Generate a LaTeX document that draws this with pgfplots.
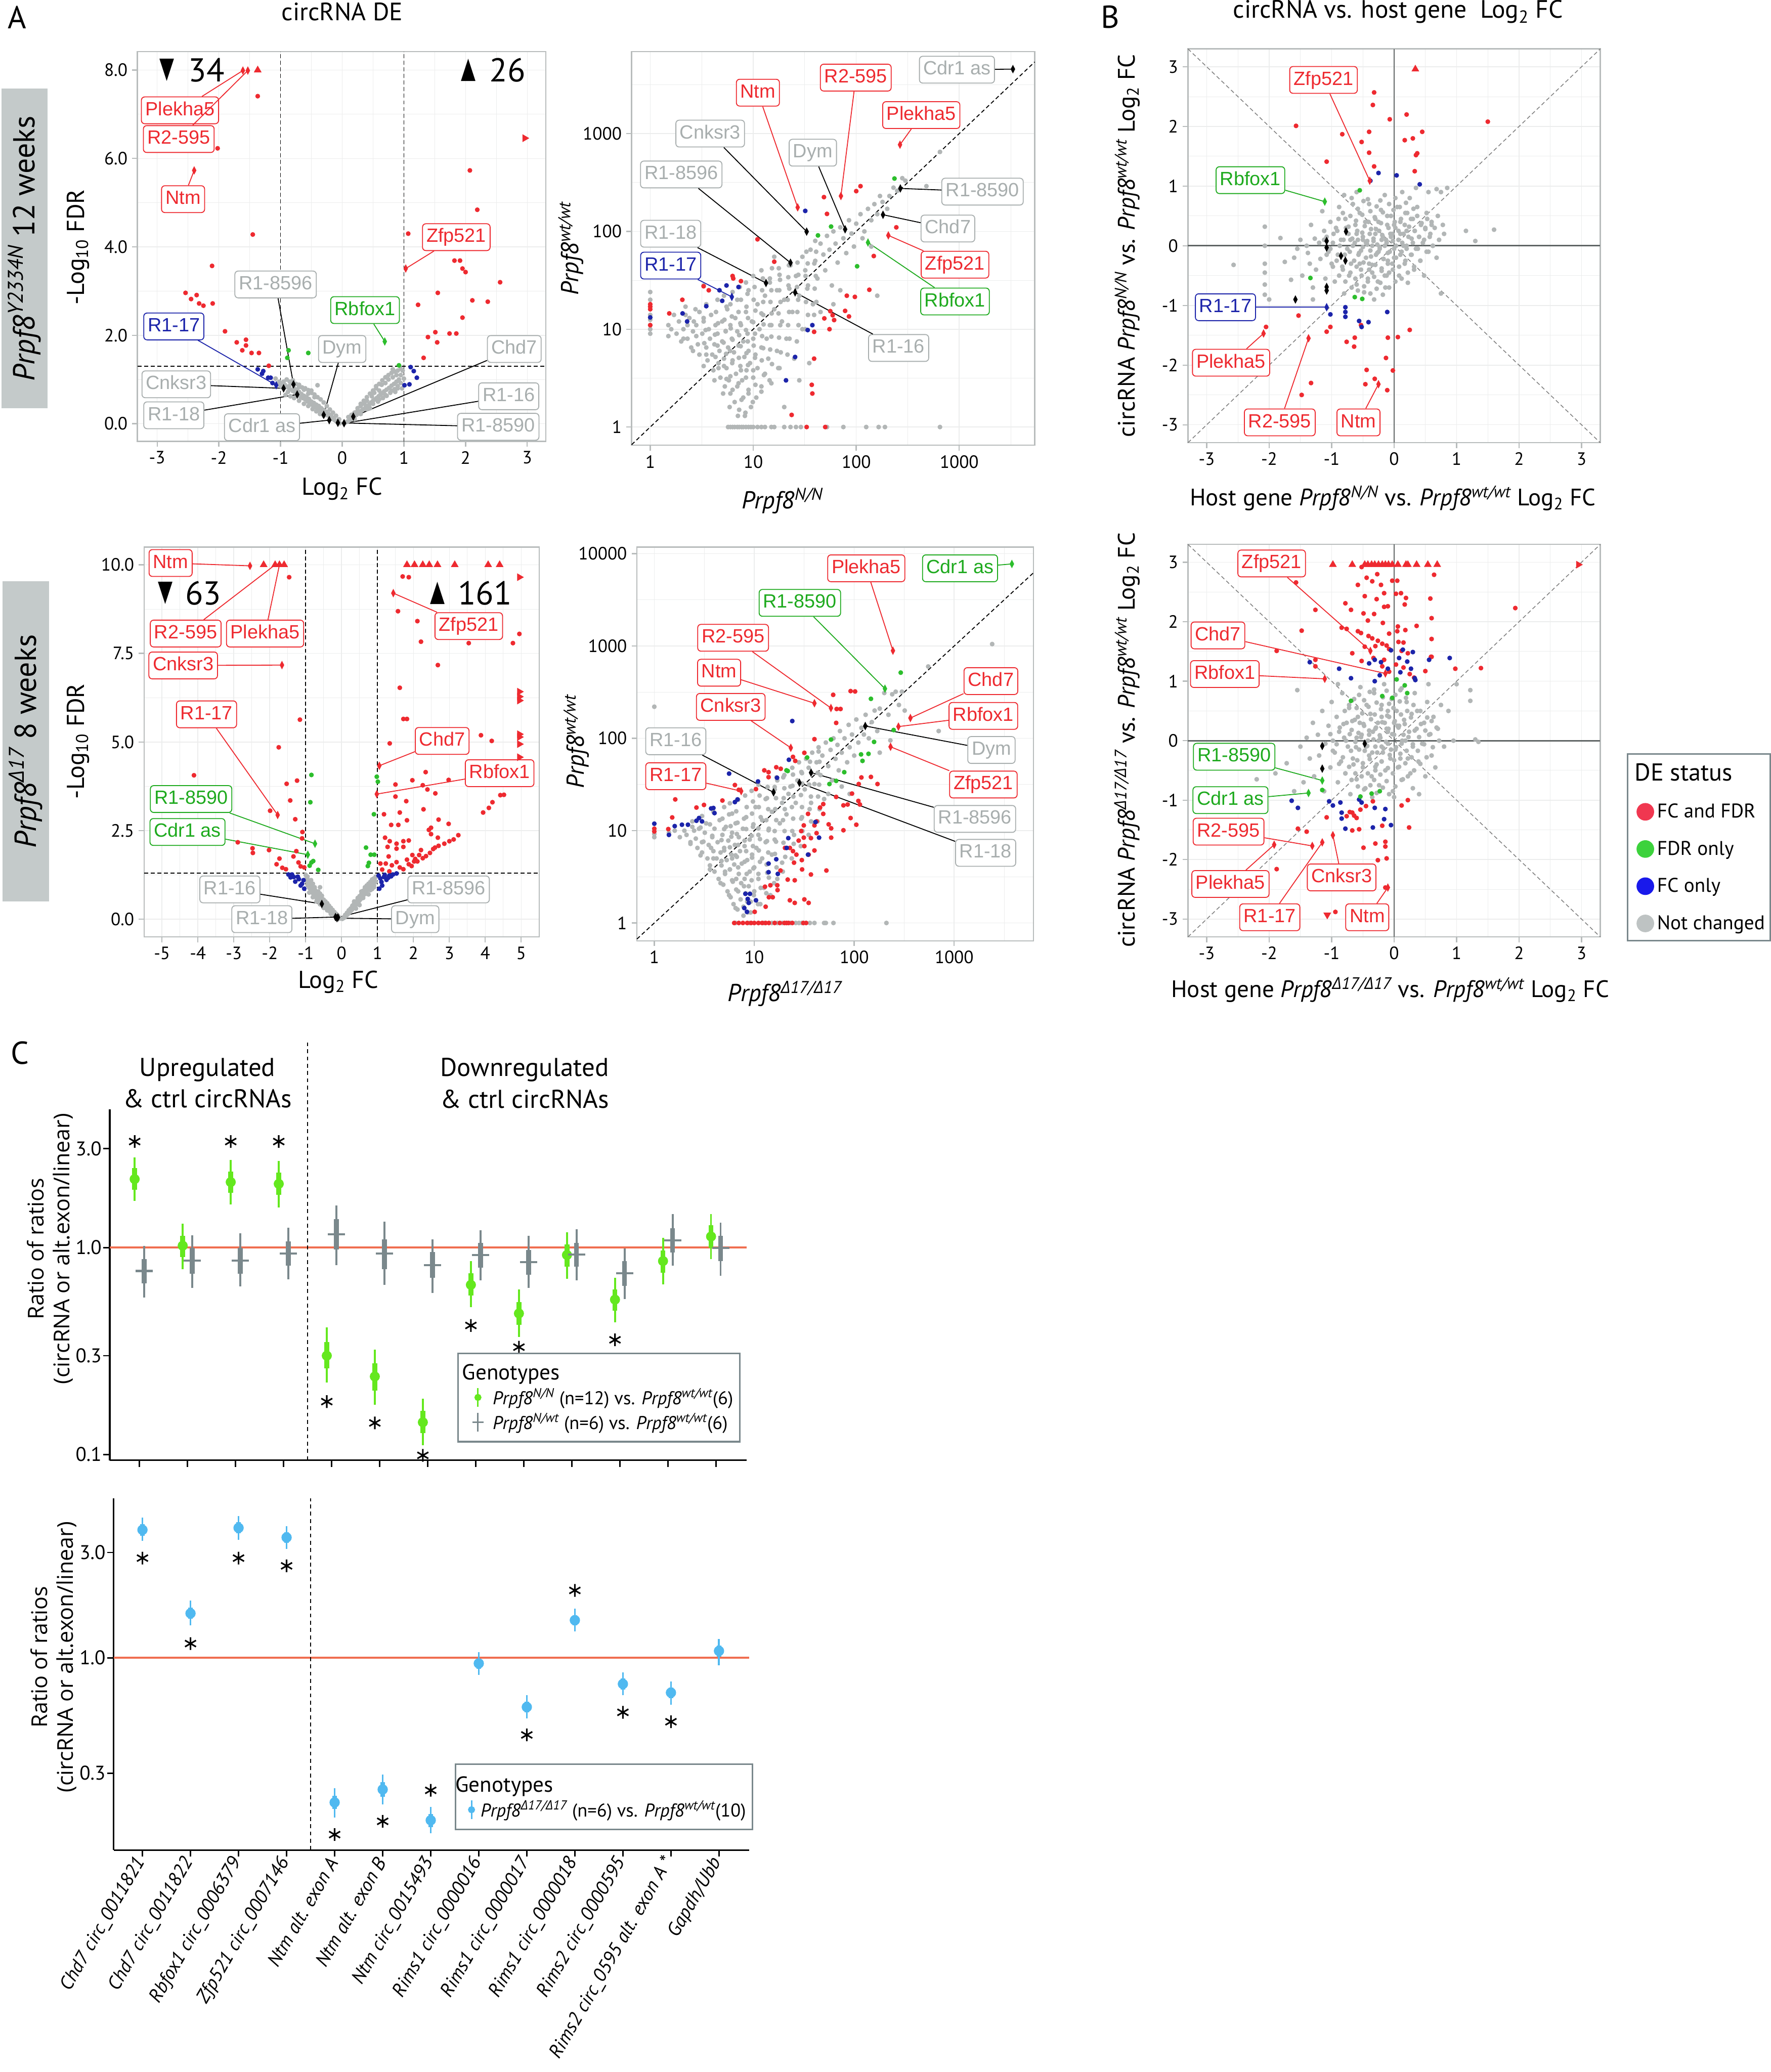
\documentclass[border=0pt]{standalone}
\usepackage{fontspec}
\setmainfont{PT Sans}
\newfontfamily\lab{Liberation Sans}
\newfontfamily\sym{DejaVu Sans}
\newfontfamily\osans{Open Sans}
\usepackage{pgfplots}
\pgfplotsset{compat=1.18}
\definecolor{pred}{RGB}{238,42,48}
\definecolor{pgreen}{RGB}{44,190,44}
\definecolor{lgreen}{RGB}{30,170,30}
\definecolor{pblue}{RGB}{28,36,170}
\definecolor{pgrey}{RGB}{178,182,182}
\definecolor{lgrey}{RGB}{168,174,174}
\definecolor{bord}{RGB}{184,188,188}
\definecolor{gridc}{RGB}{236,237,237}
\definecolor{zgrey}{RGB}{95,100,100}
\definecolor{cgreen}{RGB}{100,232,30}
\definecolor{cgrey}{RGB}{122,136,140}
\definecolor{cblue}{RGB}{80,185,240}
\definecolor{corange}{RGB}{240,110,80}
\definecolor{boxgrey}{RGB}{196,202,202}
\definecolor{legred}{RGB}{240,55,80}
\definecolor{leggreen}{RGB}{60,210,60}
\definecolor{legblue}{RGB}{25,25,235}
\definecolor{leggrey}{RGB}{190,195,195}
\newcommand{\fs}[1]{\fontsize{#1}{#1}\selectfont}
\newcommand{\Prpf}[1]{\textit{Prpf8}\textsuperscript{\itshape #1}}
\newcommand{\Dl}{{\osans\itshape Δ}}
\newcommand{\logt}{Log\textsubscript{2}}
\newcommand{\lb}[6]{\node[lbl=#1] (#2) at (axis cs:#3) {#4}; \draw[cl=#5] (#2) -- (axis cs:#6);}
\tikzset{
 lbl/.style={draw=#1, text=#1, fill=white, rounded corners=2.5pt, line width=0.7pt, inner xsep=3pt, inner ysep=3.5pt, text height=10.5pt, text depth=2.8pt, font=\lab\fs{14.5}},
 cl/.style={draw=#1, line width=0.7pt},
}
\pgfplotsset{
 base/.style={scale only axis, clip=false, tick align=outside, tick pos=left,
   axis line style={draw=bord, line width=0.9pt},
   major tick length=4pt, minor tick length=0pt,
   tick style={draw=bord, line width=0.9pt},
   ticklabel style={font=\fs{13.5}, text=black},
   /pgf/number format/assume math mode=true,
   grid=both, major grid style={draw=gridc, line width=0.6pt},
   minor grid style={draw=gridc, line width=0.35pt}},
 pts/.style={only marks, mark=*, mark size=1.6pt, color=#1},
 dia/.style={only marks, mark=diamond*, mark size=2.8pt, color=#1, mark options={xscale=0.7}},
 tru/.style={only marks, mark=triangle*, mark size=3pt, color=#1},
 trr/.style={only marks, mark=triangle*, mark size=3pt, color=#1, mark options={rotate=-90}},
 trd/.style={only marks, mark=triangle*, mark size=3pt, color=#1, mark options={rotate=180}},
 dsh/.style={black, line width=0.7pt, dash pattern=on 3pt off 2pt},
 star/.style={only marks, mark=asterisk, mark size=4.8pt, black, mark options={line width=1.2pt}},
}
\begin{document}
\begin{tikzpicture}
\useasboundingbox (0pt,0pt) rectangle (1340pt,-1568pt);
% ---------- titles / side boxes ----------
\node[font=\fs{24}] at (13pt,-13pt) {A};
\node[font=\fs{24}] at (840pt,-13pt) {B};
\node[font=\fs{24}] at (15pt,-797pt) {C};
\node[font=\fs{19}] at (259pt,-9pt) {circRNA DE};
\node[font=\fs{19}] at (1058pt,-9pt) {circRNA vs. host gene\ \ \logt{} FC};
\node[fill=boxgrey, rotate=90, minimum width=242pt, minimum height=35pt, inner sep=0pt, font=\fs{23}] at (18.5pt,-188pt) {\Prpf{Y2334N} 12 weeks};
\node[fill=boxgrey, rotate=90, minimum width=242pt, minimum height=35pt, inner sep=0pt, font=\fs{23}] at (19.5pt,-561pt) {\Prpf{\Dl17} 8 weeks};
% axis titles
\node[rotate=90, font=\fs{18.5}] at (59pt,-187pt) {-Log\textsubscript{10} FDR};
\node[font=\fs{18.5}] at (259pt,-370pt) {\logt{} FC};
\node[rotate=90, font=\fs{18.5}] at (432pt,-188pt) {\Prpf{wt/wt}};
\node[font=\fs{18.5}] at (592pt,-379pt) {\Prpf{N/N}};
\node[rotate=90, font=\fs{18}] at (853pt,-186pt) {circRNA \Prpf{N/N} vs. \Prpf{wt/wt} \logt{} FC};
\node[font=\fs{18}] at (1054pt,-377pt) {Host gene \Prpf{N/N} vs. \Prpf{wt/wt} \logt{} FC};
\node[rotate=90, font=\fs{18.5}] at (59pt,-561pt) {-Log\textsubscript{10} FDR};
\node[font=\fs{18.5}] at (256pt,-743pt) {\logt{} FC};
\node[rotate=90, font=\fs{18.5}] at (436pt,-561pt) {\Prpf{wt/wt}};
\node[font=\fs{18.5}] at (594pt,-752pt) {\Prpf{\Dl17/\Dl17}};
\node[rotate=90, font=\fs{18}] at (853pt,-560pt) {circRNA \Prpf{\Dl17/\Dl17} vs. \Prpf{wt/wt} \logt{} FC};
\node[font=\fs{18}] at (1052pt,-749pt) {Host gene \Prpf{\Dl17/\Dl17} vs. \Prpf{wt/wt} \logt{} FC};
\node[align=center, font=\fontsize{19.5}{24}\selectfont] at (157pt,-819.6pt) {Upregulated\\\& ctrl circRNAs};
\node[align=center, font=\fontsize{19.5}{24}\selectfont] at (397pt,-819.6pt) {Downregulated\\\& ctrl circRNAs};
\node[rotate=90, align=center, font=\osans\fontsize{16.5}{19.5}\selectfont] at (38pt,-945pt) {Ratio of ratios\\(circRNA or alt.exon/linear)};
\node[rotate=90, align=center, font=\osans\fontsize{16.5}{19.5}\selectfont] at (40.5pt,-1254pt) {Ratio of ratios\\(circRNA or alt.exon/linear)};

% =========== Volcano top ===========
\begin{axis}[base, at={(104pt,-39pt)}, anchor=north west, width=309pt, height=295pt,
  xmin=-3.32, xmax=3.3, ymin=-0.4, ymax=8.42,
  xtick={-3,-2,-1,0,1,2,3}, ytick={0,2,4,6,8},
  minor xtick={-2.5,-1.5,-0.5,0.5,1.5,2.5}, minor ytick={1,3,5,7},
  yticklabel style={/pgf/number format/.cd, fixed, fixed zerofill, precision=1}]
\addplot[dsh] coordinates {(-1,-0.4) (-1,8.42)};
\addplot[dsh] coordinates {(1,-0.4) (1,8.42)};
\addplot[dsh] coordinates {(-3.32,1.3) (3.3,1.3)};
\addplot[pts=pgrey] coordinates {(-1.08,1.02) (-1.02,0.95) (-0.98,0.90) (-0.93,0.88) (-0.90,0.83) (-0.86,0.85) (-0.85,0.78) (-0.82,0.92) (-0.80,0.74) (-0.78,0.80) (-0.76,0.70) (-0.74,0.77) (-0.72,0.65) (-0.70,0.72) (-0.68,0.61) (-0.66,0.67) (-0.64,0.58) (-0.62,0.63) (-0.60,0.55) (-0.58,0.60) (-0.56,0.50) (-0.54,0.56) (-0.52,0.46) (-0.50,0.50) (-0.48,0.42) (-0.46,0.47) (-0.44,0.38) (-0.42,0.43) (-0.40,0.87) (-0.40,0.34) (-0.38,0.40) (-0.36,0.30) (-0.34,0.35) (-0.32,0.27) (-0.30,0.31) (-0.28,0.23) (-0.26,0.27) (-0.24,0.19) (-0.22,0.22) (-0.20,0.15) (-0.18,0.18) (-0.16,0.11) (-0.14,0.13) (-0.12,0.08) (-0.10,0.06) (-0.08,0.04) (-0.06,0.03) (-0.04,0.01) (-0.70,0.83) (-0.62,0.77) (-0.55,0.68) (-0.50,0.75) (-0.88,0.72) (-0.95,0.80) (-0.45,0.60)
(-0.95,0.95) (-0.9,1.0) (-0.85,0.95) (-0.8,0.98) (-0.75,0.9) (-0.7,0.88) (-0.65,0.82) (-0.6,0.8) (-0.55,0.76) (-0.5,0.7) (-0.45,0.66) (-0.4,0.6) (-0.35,0.55) (-0.3,0.48) (-0.25,0.4) (-0.2,0.32) (-0.15,0.25) (-0.1,0.18) (-0.05,0.1) (-1.05,0.9) (-1.0,0.85) (-0.92,0.65) (-0.84,0.62) (-0.78,0.58) (-0.7,0.52) (-0.62,0.45) (-0.55,0.4) (-0.48,0.33) (-0.42,0.28) (-0.36,0.22) (-0.3,0.18)
(0.04,0.02) (0.07,0.04) (0.10,0.06) (0.13,0.09) (0.16,0.12) (0.20,0.16) (0.23,0.20) (0.26,0.23) (0.29,0.27) (0.32,0.30) (0.35,0.33) (0.38,0.37) (0.41,0.40) (0.44,0.44) (0.47,0.48) (0.50,0.52) (0.53,0.55) (0.56,0.58) (0.59,0.62) (0.62,0.66) (0.65,0.69) (0.68,0.73) (0.72,0.77) (0.76,0.81) (0.80,0.86) (0.84,0.90) (0.88,0.95) (0.92,1.00) (0.30,0.40) (0.40,0.52) (0.48,0.62) (0.52,0.70) (0.55,0.80) (0.60,0.75) (0.64,0.88) (0.70,0.92) (0.75,1.00) (0.78,0.70) (0.82,1.05) (0.85,0.78) (0.88,1.10) (0.90,0.85) (0.95,0.92) (0.97,0.80) (1.00,1.02) (0.45,0.35) (0.58,0.50) (0.66,0.58) (0.72,0.63) (0.86,0.72) (0.36,0.45) (0.25,0.30) (0.82,1.23)
(0.1,0.15) (0.15,0.2) (0.2,0.25) (0.25,0.35) (0.3,0.45) (0.35,0.52) (0.4,0.6) (0.45,0.68) (0.5,0.75) (0.55,0.85) (0.6,0.9) (0.65,0.98) (0.7,1.05) (0.75,1.1) (0.8,1.15) (0.85,1.18) (0.9,1.2) (0.95,1.1) (0.98,1.2) (0.2,0.1) (0.3,0.22) (0.4,0.33) (0.5,0.45) (0.6,0.55) (0.7,0.65) (0.8,0.75) (0.9,0.8) (0.95,1.25)};
\addplot[pts=pred] coordinates {(-1.37,7.41) (-2.02,6.23) (-1.45,4.28) (-2.11,3.57) (-2.54,2.96) (-2.45,2.82) (-2.36,2.91) (-2.32,2.72) (-2.25,2.67) (-2.10,2.72) (-1.90,2.09) (-1.71,1.84) (-1.56,1.90) (-1.56,1.77) (-1.62,1.66) (-1.47,1.60) (-1.35,1.60) (-1.19,1.31) (2.07,5.73) (2.19,4.84) (1.07,4.30) (1.82,3.69) (1.91,3.69) (1.95,3.51) (2.00,3.43) (2.56,3.20) (1.55,2.96) (1.23,2.69) (2.11,2.79) (2.36,2.76) (1.95,2.40) (1.51,2.07) (1.39,1.96) (1.54,1.84) (1.74,2.04) (1.85,2.04) (1.32,1.49)};
\addplot[pts=pgreen] coordinates {(-0.87,1.66) (-0.89,1.49) (-0.55,1.60) (0.92,1.32)};
\addplot[pts=pblue] coordinates {(-1.37,1.23) (-1.28,1.19) (-1.30,1.13) (-1.20,1.04) (-1.16,1.04) (-1.13,0.92) (1.11,1.28) (1.16,1.19) (1.21,1.04) (1.01,0.87) (1.09,0.89)};
\addplot[dia=pred] coordinates {(-1.61,7.99) (-1.53,7.99) (-2.40,5.73) (1.03,3.51)};
\addplot[tru=pred] coordinates {(-1.37,8.0)};
\addplot[trr=pred] coordinates {(2.96,6.46)};
\addplot[dia=pgreen] coordinates {(0.69,1.86)};
\addplot[dia=pblue] coordinates {(-1.07,0.87)};
\addplot[dia=black] coordinates {(-0.95,0.80) (-0.79,0.89) (-0.73,0.66) (-0.30,0.20) (-0.21,0.08) (-0.07,0.02) (0.03,0.01) (0.18,0.16)};
\node[font=\sym\fs{17}] at (axis cs:-2.84,8.0) {\scalebox{0.85}[1.3]{▼}};
\node[font=\fs{25}] at (axis cs:-2.2,8.0) {34};
\node[font=\sym\fs{17}] at (axis cs:2.05,8.0) {\scalebox{0.85}[1.3]{▲}};
\node[font=\fs{25}] at (axis cs:2.68,8.0) {26};
\lb{pred}{a1}{-2.63,7.09}{Plekha5}{pred}{-1.61,7.99}
\lb{pred}{a2}{-2.65,6.44}{R2-595}{pred}{-1.53,7.99}
\lb{pred}{a3}{-2.58,5.08}{Ntm}{pred}{-2.40,5.73}
\lb{pred}{a4}{1.85,4.22}{Zfp521}{pred}{1.03,3.51}
\lb{lgrey}{a5}{-1.08,3.15}{R1-8596}{black}{-0.79,0.89}
\lb{lgreen}{a6}{0.37,2.57}{Rbfox1}{lgreen}{0.69,1.86}
\lb{pblue}{a7}{-2.73,2.20}{R1-17}{pblue}{-1.07,0.87}
\lb{lgrey}{a8}{0.0,1.69}{Dym}{black}{-0.30,0.20}
\lb{lgrey}{a9}{2.79,1.69}{Chd7}{black}{0.18,0.16}
\lb{lgrey}{a10}{-2.69,0.89}{Cnksr3}{black}{-0.95,0.80}
\lb{lgrey}{a11}{2.70,0.62}{R1-16}{black}{0.03,0.01}
\lb{lgrey}{a12}{-2.73,0.19}{R1-18}{black}{-0.73,0.66}
\lb{lgrey}{a13}{-1.30,-0.08}{Cdr1 as}{black}{-0.21,0.08}
\lb{lgrey}{a14}{2.53,-0.07}{R1-8590}{black}{-0.07,0.02}
\end{axis}

% =========== Scatter top ===========
\begin{axis}[base, at={(478pt,-39pt)}, anchor=north west, width=305pt, height=298pt,
  xmode=log, ymode=log, xmin=0.66, xmax=5400, ymin=0.65, ymax=6900,
  xtick={1,10,100,1000}, xticklabels={1,10,100,1000},
  ytick={1,10,100,1000}, yticklabels={1,10,100,1000},
  minor xtick={3.162,31.62,316.2,3162}, minor ytick={3.162,31.62,316.2,3162}]
\addplot[black, line width=0.7pt, dash pattern=on 3pt off 2pt] coordinates {(0.66,0.66) (5400,5400)};
\addplot[pts=pgrey] coordinates {(1,9) (1,10) (1,11) (1,12.5) (1,14) (1,17) (1,20) (1,24)
(5.7,1) (6,1) (6.3,1) (6.6,1) (7,1) (7.3,1) (7.7,1) (8,1) (8.5,1) (9,1) (9.5,1) (10,1) (11,1) (12,1) (13,1) (15,1) (16,1) (20,1) (23,1) (26,1) (29,1) (52,1) (75,1) (125,1) (165,1) (190,1) (650,1)
(1.5,11) (1.5,8.5) (1.6,10) (1.8,9) (1.9,12) (2,7.5) (2.1,10) (2.3,8) (2.4,13) (2.5,6.5) (2.6,9.5) (2.8,11) (2.9,7) (3,15) (3,5.5) (3.2,9) (3.3,12) (3.5,6.5) (3.6,4.8) (3.7,10) (3.8,8) (3.9,14) (4,5.5) (4.1,3.8) (4.2,7) (4.3,11) (4.5,9) (4.6,4.5) (4.7,6) (4.8,3.2) (5,12) (5,7.5) (5.2,5) (5.3,2.6) (5.4,9.5) (5.5,4) (5.6,16) (5.7,6.5) (5.8,3) (6,11) (6,2.2) (6.2,8) (6.3,4.8) (6.5,5.8) (6.6,1.8) (6.7,13) (6.8,3.5) (7,9.5) (7,2.6) (7.2,6.8) (7.3,1.5) (7.5,4.2) (7.6,11) (7.8,3) (8,7.5) (8,2) (8.2,5.2) (8.3,1.3) (8.5,15) (8.6,3.8) (8.8,9) (9,2.4) (9,6) (9.3,4.5) (9.5,1.6) (9.7,12) (10,3.2) (10,8) (10.5,5.5) (10.7,2) (11,18) (11,4) (11.5,10) (12,2.6) (12,6.5) (12.5,14) (13,3.5) (13,22) (13.5,8) (14,5) (14.5,30) (15,11) (15,2.8) (16,16) (17,6) (17,25) (18,4) (18,36) (19,12) (20,20) (21,8) (22,28) (23,45) (24,15) (25,5) (26,35) (28,22) (30,55) (30,10) (32,40) (34,28) (36,65) (38,18) (40,50) (42,33) (45,75) (48,58) (50,40) (52,90) (55,65) (58,28) (60,100) (63,75) (66,48) (70,110) (75,85) (80,60) (85,130) (90,95) (95,70) (100,120) (110,150) (115,85) (120,100) (130,170) (140,130) (150,190) (160,150) (170,230) (180,200) (200,170) (210,230) (230,280) (250,260) (280,350) (300,330) (480,290) (650,650) (160,22) (60,18) (70,25) (140,70) (45,15) (35,4.5) (28,3) (20,1.6) (3.3,28) (2.2,17) (1.7,14) (12,40) (9,25) (16,55) (7,20)
(2.1,8) (2.3,11) (2.2,14) (2.6,6) (2.8,8.5) (2.65,12) (2.75,16) (3.3,4.2) (3.5,5.5) (3.35,7.2) (3.45,9.8) (3.3,13) (3.5,18) (4.2,3.0) (4.6,4.0) (4.3,5.2) (4.5,6.8) (4.25,8.8) (4.55,11.5) (4.35,15) (4.5,20) (5.1,2.2) (5.5,3.1) (5.2,4.2) (5.45,5.6) (5.15,7.3) (5.4,9.6) (5.25,12.5) (5.5,17) (5.2,22) (5.9,1.6) (6.3,2.4) (6.0,3.3) (6.25,4.5) (5.95,6) (6.3,7.8) (6.05,10.2) (6.2,13.5) (6.0,18) (6.3,24) (7.1,1.3) (7.7,1.9) (7.2,2.8) (7.6,3.8) (7.25,5.1) (7.55,6.7) (7.3,8.7) (7.5,11.5) (7.2,15) (7.6,20) (7.4,27) (8.4,1.4) (9.0,2.2) (8.5,3.2) (8.9,4.3) (8.6,5.7) (8.85,7.5) (8.5,9.8) (8.9,13) (8.6,17) (8.8,23) (8.5,30) (9.9,1.8) (10.5,2.7) (10.0,3.8) (10.4,5.1) (10.1,6.8) (10.4,9) (10.0,11.8) (10.5,15.5) (10.1,20) (10.3,27) (10.0,35) (12.0,2.3) (12.7,3.4) (12.1,4.8) (12.5,6.4) (12.2,8.5) (12.6,11.2) (12.0,14.5) (12.5,19) (12.2,25) (12.4,33) (14.4,3.0) (15.2,4.4) (14.6,6.2) (15.0,8.4) (14.5,11) (15.1,14.5) (14.7,19) (15.0,25) (14.5,33) (15.2,42) (17.5,4.0) (18.5,5.8) (17.8,8.2) (18.3,11) (17.6,14.5) (18.4,19) (17.9,25) (18.2,32) (17.7,42) (21.5,5.5) (22.5,8) (21.8,11) (22.3,15) (21.6,20) (22.4,26) (21.9,34) (22.2,45) (26.5,7.5) (27.5,11) (26.8,15) (27.3,20) (26.6,27) (27.4,36) (26.9,48) (32,10) (34,14) (32.5,19) (33.5,26) (32.2,35) (33.8,47) (32.8,62) (39,14) (41,19) (39.5,26) (40.5,35) (39.2,47) (40.8,62) (40,80)};
\addplot[pts=pred] coordinates {(48.6,224) (100,258) (110,290) (52,151) (245,110) (11,83) (16,49) (6.3,35) (6.4,33) (7.6,31) (3.3,27.5) (3.7,25) (2.05,20) (1.53,14.5) (1,18) (1,17) (1,16) (81,22) (97,21.4) (134,25.3) (148,56) (56,15.3) (59,13.9) (61,12.4) (78,15.4) (85,13.5) (49,12.9) (55,10) (39,9.4) (39,5.0) (37,2.7) (37.5,2.2) (23.6,1.33) (33,1) (50,1) (1,11)};
\addplot[pts=pgreen] coordinates {(235,347) (57,112) (42.5,91) (102,44)};
\addplot[pts=pblue] coordinates {(32,162) (5.5,28) (4.7,25) (5.0,19.5) (7.2,27) (3.5,17.2) (2.06,14.5) (2.28,12) (1,13.2) (37.5,11) (33.8,9.8) (25.5,5.2) (20.8,3.0)};
\addplot[dia=pred] coordinates {(27,176) (71,230) (266,770) (205,91)};
\addplot[dia=pgreen] coordinates {(130,77)};
\addplot[dia=pblue] coordinates {(6.2,21.4)};
\addplot[dia=black] coordinates {(3320,4560) (268,275) (182,148) (78,105) (33,99.5) (23,47.8) (13.3,29.7) (25.5,23.8)};
\lb{lgrey}{b1}{950,4500}{Cdr1 as}{black}{3320,4560}
\lb{pred}{b2}{99,3735}{R2-595}{pred}{71,230}
\lb{pred}{b3}{11.1,2620}{Ntm}{pred}{27,176}
\lb{pred}{b4}{428,1545}{Plekha5}{pred}{266,770}
\lb{lgrey}{b5}{3.82,1000}{Cnksr3}{black}{33,99.5}
\lb{lgrey}{b6}{37.9,638}{Dym}{black}{78,105}
\lb{lgrey}{b7}{2.0,382}{R1-8596}{black}{23,47.8}
\lb{lgrey}{b8}{1683,255}{R1-8590}{black}{268,275}
\lb{lgrey}{b9}{776,107}{Chd7}{black}{182,148}
\lb{lgrey}{b10}{1.58,94.7}{R1-18}{black}{13.3,29.7}
\lb{pred}{b11}{910,45.7}{Zfp521}{pred}{205,91}
\lb{pblue}{b12}{1.58,44.7}{R1-17}{pblue}{6.2,21.4}
\lb{lgreen}{b13}{910,19.2}{Rbfox1}{lgreen}{130,77}
\lb{lgrey}{b14}{258,6.43}{R1-16}{black}{25.5,23.8}
\end{axis}

% =========== B top ===========
\begin{axis}[base, at={(899pt,-37pt)}, anchor=north west, width=312pt, height=298pt,
  xmin=-3.3, xmax=3.3, ymin=-3.3, ymax=3.3,
  xtick={-3,-2,-1,0,1,2,3}, ytick={-3,-2,-1,0,1,2,3},
  minor xtick={-2.5,-1.5,-0.5,0.5,1.5,2.5}, minor ytick={-2.5,-1.5,-0.5,0.5,1.5,2.5}]
\addplot[gray, line width=0.6pt, dash pattern=on 3pt off 2pt] coordinates {(-3.3,-3.3) (3.3,3.3)};
\addplot[gray, line width=0.6pt, dash pattern=on 3pt off 2pt] coordinates {(-3.3,3.3) (3.3,-3.3)};
\addplot[zgrey, line width=1.1pt] coordinates {(-3.3,0) (3.3,0)};
\addplot[zgrey, line width=1.1pt] coordinates {(0,-3.3) (0,3.3)};
\addplot[pts=pgrey] coordinates {(-2.57,-0.32) (-2.07,0.32) (-2.07,0.0) (-2.07,-0.3) (-2.07,-0.45) (-2.07,-0.65) (-2.07,-0.82) (-2.0,-0.9) (-1.82,0.13) (-1.75,-0.27) (-1.65,-0.57) (-1.6,-0.2) (-1.55,-0.05) (-1.5,0.1) (-1.47,-0.5) (-1.4,0.0) (-1.38,-0.12) (-1.35,-0.3) (-1.33,0.35) (-1.3,-0.7) (-1.27,0.12) (-1.25,-0.4) (-1.2,0.05) (-1.18,-0.22) (-1.15,0.58) (-1.12,0.25) (-1.1,-0.55) (-1.08,0.15) (-1.05,-0.1) (-1.02,0.4) (-1.0,-0.3) (-0.98,0.05) (-0.95,-0.6) (-0.93,0.3) (-0.9,-0.15) (-0.88,0.65) (-0.85,0.1) (-0.83,-0.35) (-0.8,-0.8) (-0.78,0.45) (-0.75,-0.05) (-0.73,0.2) (-0.7,-0.45) (-0.68,0.8) (-0.66,0.0) (-0.64,-0.25) (-0.62,0.35) (-0.6,-0.65) (-0.58,0.1) (-0.56,-0.12) (-0.55,0.55) (-0.53,-0.4) (-0.51,0.22) (-0.5,-0.02) (-0.48,-0.78) (-0.46,0.4) (-0.45,-0.2) (-0.43,0.08) (-0.42,-0.55) (-0.4,0.7) (-0.38,-0.08) (-0.37,0.28) (-0.35,-0.32) (-0.33,0.12) (-0.32,-0.9) (-0.3,0.45) (-0.29,-0.15) (-0.27,0.02) (-0.26,-0.6) (-0.24,0.25) (-0.23,-0.05) (-0.21,0.6) (-0.2,-0.38) (-0.18,0.15) (-0.17,-0.22) (-0.15,0.85) (-0.14,-0.7) (-0.12,0.05) (-0.11,0.35) (-0.1,-0.12) (-0.08,-0.45) (-0.06,0.2) (-0.05,0.5) (-0.03,-0.3) (-0.02,0.08) (0.0,-0.05) (0.02,0.3) (0.03,-0.2) (0.05,0.65) (0.07,0.1) (0.08,-0.5) (0.1,0.4) (0.12,-0.1) (0.13,0.9) (0.15,0.2) (0.17,-0.3) (0.18,0.55) (0.2,0.0) (0.22,-0.62) (0.24,0.32) (0.25,0.8) (0.27,-0.15) (0.28,0.12) (0.3,0.45) (0.32,-0.4) (0.33,0.25) (0.35,-0.05) (0.37,0.65) (0.4,0.15) (0.42,-0.25) (0.44,0.38) (0.46,0.05) (0.48,-0.5) (0.5,0.28) (0.52,0.55) (0.55,-0.1) (0.57,0.15) (0.6,0.4) (0.62,0.0) (0.65,0.3) (0.68,-0.2) (0.7,0.5) (0.72,0.1) (0.75,0.9) (0.68,0.95) (0.78,0.35) (0.85,0.97) (0.55,0.9) (0.35,0.97) (1.15,0.25) (1.3,0.08) (1.6,0.27) (0.8,0.2) (0.75,-0.8) (-0.6,0.9) (-0.8,0.85) (-1.3,-0.9)
(-0.35,0.0) (-0.25,-0.1) (-0.15,0.0) (-0.4,-0.3) (-0.2,0.1) (-0.3,0.2) (-0.5,0.1) (-0.1,-0.25) (-0.45,0.05) (-0.05,0.15) (0.1,0.2) (-0.55,-0.3) (-0.6,0.2) (-0.35,-0.45) (-0.15,-0.5) (0.0,0.35) (0.15,0.0) (0.2,0.25) (-0.25,0.4) (-0.7,0.1)
(-1.08,-0.15) (-1.12,0.1) (-0.98,-0.35) (-1.02,-0.05) (-0.97,0.2) (-0.88,-0.5) (-0.92,-0.25) (-0.87,0.0) (-0.91,0.25) (-0.89,0.45) (-0.78,-0.6) (-0.82,-0.4) (-0.79,-0.15) (-0.81,0.1) (-0.77,0.3) (-0.82,0.55) (-0.68,-0.7) (-0.72,-0.5) (-0.69,-0.3) (-0.71,-0.1) (-0.67,0.12) (-0.73,0.32) (-0.7,0.5) (-0.66,0.7) (-0.58,-0.75) (-0.62,-0.55) (-0.6,-0.35) (-0.57,-0.15) (-0.63,0.05) (-0.59,0.25) (-0.61,0.42) (-0.58,0.62) (-0.48,-0.68) (-0.52,-0.5) (-0.49,-0.28) (-0.53,-0.08) (-0.5,0.15) (-0.47,0.33) (-0.51,0.52) (-0.49,0.75) (-0.38,-0.8) (-0.42,-0.6) (-0.4,-0.4) (-0.37,-0.18) (-0.43,0.02) (-0.39,0.2) (-0.41,0.4) (-0.38,0.58) (-0.42,0.78) (-0.28,-0.72) (-0.32,-0.52) (-0.3,-0.32) (-0.27,-0.12) (-0.33,0.08) (-0.29,0.28) (-0.31,0.48) (-0.28,0.66) (-0.18,-0.82) (-0.22,-0.62) (-0.2,-0.42) (-0.17,-0.22) (-0.23,-0.02) (-0.19,0.18) (-0.21,0.38) (-0.18,0.56) (-0.22,0.76) (-0.08,-0.7) (-0.12,-0.5) (-0.1,-0.3) (-0.07,-0.1) (-0.13,0.1) (-0.09,0.3) (-0.11,0.5) (-0.08,0.7) (0.02,-0.6) (-0.02,-0.4) (0.0,-0.2) (0.03,0.0) (-0.03,0.2) (0.01,0.4) (-0.01,0.6) (0.02,0.8) (0.12,-0.55) (0.08,-0.35) (0.1,-0.15) (0.13,0.05) (0.07,0.25) (0.11,0.45) (0.09,0.65) (0.22,-0.45) (0.18,-0.25) (0.2,-0.05) (0.23,0.15) (0.17,0.35) (0.21,0.55) (0.19,0.72) (0.32,-0.35) (0.28,-0.15) (0.3,0.05) (0.33,0.25) (0.27,0.45) (0.31,0.62) (0.42,-0.25) (0.38,-0.05) (0.4,0.15) (0.43,0.35) (0.37,0.5) (0.52,-0.1) (0.48,0.1) (0.5,0.3) (0.53,0.45) (0.62,0.0) (0.58,0.2) (0.6,0.35)};
\addplot[pts=pred] coordinates {(-0.32,2.57) (-0.34,2.36) (-0.07,2.12) (0.20,2.20) (-1.57,2.01) (1.50,2.08) (-0.40,1.91) (-0.83,1.87) (0.45,1.91) (0.30,1.80) (0.17,1.77) (-0.52,1.74) (-0.40,1.56) (0.37,1.55) (0.35,1.52) (-1.08,1.41) (-0.32,1.33) (0.33,1.25) (-1.53,-1.17) (-2.05,-1.36) (-1.02,-1.36) (-1.08,-1.44) (-0.53,-1.33) (-0.63,-1.54) (-0.76,-1.61) (-0.64,-1.69) (-0.10,-1.54) (0.06,-1.53) (0.25,-1.41) (-0.13,-1.88) (-0.02,-2.09) (-0.44,-2.08) (-1.33,-2.30) (-0.46,-2.32) (-0.31,-2.23) (-1.48,-2.50) (-0.11,-2.42)};
\addplot[pts=pblue] coordinates {(-0.25,1.22) (0.04,1.18) (-0.38,1.09) (0.41,1.03) (-0.78,-1.03) (-0.78,-1.11) (-0.78,-1.19) (-1.02,-1.15) (-0.11,-1.11) (-0.56,-1.26) (-0.41,-1.28) (-0.52,-1.36)};
\addplot[pts=pgreen] coordinates {(-0.55,0.93) (-1.34,-0.54) (-0.63,-0.86) (-0.51,-0.89)};
\addplot[dia=pred] coordinates {(-0.39,1.09) (-2.09,-1.47) (-1.37,-1.55) (-0.25,-2.32)};
\addplot[tru=pred] coordinates {(0.34,2.96)};
\addplot[dia=pblue] coordinates {(-1.08,-1.03)};
\addplot[dia=pgreen] coordinates {(-1.11,0.74)};
\addplot[dia=black] coordinates {(-1.08,0.08) (-1.08,-0.03) (-0.77,0.24) (-0.85,-0.17) (-0.78,-0.25) (-1.08,-0.69) (-1.08,-0.75) (-1.58,-0.90)};
\lb{pred}{c1}{-1.13,2.78}{Zfp521}{pred}{-0.39,1.09}
\lb{lgreen}{c2}{-2.30,1.10}{Rbfox1}{lgreen}{-1.11,0.74}
\lb{pblue}{c3}{-2.70,-1.03}{R1-17}{pblue}{-1.08,-1.03}
\lb{pred}{c4}{-2.61,-1.96}{Plekha5}{pred}{-2.09,-1.47}
\lb{pred}{c5}{-1.83,-2.96}{R2-595}{pred}{-1.37,-1.55}
\lb{pred}{c6}{-0.57,-2.96}{Ntm}{pred}{-0.25,-2.32}
\end{axis}

% =========== Volcano bottom ===========
\begin{axis}[base, at={(109pt,-414pt)}, anchor=north west, width=299pt, height=295pt,
  xmin=-5.5, xmax=5.5, ymin=-0.5, ymax=10.5,
  xtick={-5,-4,-3,-2,-1,0,1,2,3,4,5}, ytick={0,2.5,5,7.5,10},
  minor xtick={-4.5,-3.5,-2.5,-1.5,-0.5,0.5,1.5,2.5,3.5,4.5}, minor ytick={1.25,3.75,6.25,8.75},
  yticklabel style={/pgf/number format/.cd, fixed, fixed zerofill, precision=1}]
\addplot[dsh] coordinates {(-1,-0.5) (-1,10.5)};
\addplot[dsh] coordinates {(1,-0.5) (1,10.5)};
\addplot[dsh] coordinates {(-5.5,1.3) (5.5,1.3)};
\addplot[pts=pgrey] coordinates {(-1.0,1.25) (-0.98,1.15) (-0.96,1.05) (-0.94,0.95) (-0.92,1.10) (-0.90,0.88) (-0.88,1.00) (-0.86,0.80) (-0.84,0.92) (-0.82,0.75) (-0.80,0.85) (-0.78,0.70) (-0.76,0.80) (-0.74,0.65) (-0.72,0.72) (-0.70,0.60) (-0.68,0.67) (-0.66,0.55) (-0.64,0.62) (-0.62,0.50) (-0.60,0.57) (-0.58,0.46) (-0.56,0.52) (-0.54,0.42) (-0.52,0.48) (-0.50,0.38) (-0.48,0.43) (-0.46,0.34) (-0.44,0.39) (-0.42,0.30) (-0.40,0.35) (-0.38,0.27) (-0.36,0.31) (-0.34,0.23) (-0.32,0.27) (-0.30,0.20) (-0.28,0.23) (-0.26,0.17) (-0.24,0.19) (-0.22,0.14) (-0.20,0.16) (-0.18,0.11) (-0.16,0.12) (-0.14,0.08) (-0.12,0.09) (-0.10,0.05) (-0.08,0.06) (-0.06,0.03) (-0.04,0.02) (-0.75,0.90) (-0.65,0.78) (-0.55,0.66) (-0.85,1.10) (-0.60,0.90)
(-0.95,1.2) (-0.9,1.05) (-0.85,0.98) (-0.8,1.0) (-0.75,0.85) (-0.7,0.78) (-0.65,0.7) (-0.6,0.72) (-0.55,0.6) (-0.5,0.55) (-0.45,0.5) (-0.4,0.45) (-0.35,0.38) (-0.3,0.32) (-0.25,0.26) (-0.2,0.2) (-0.15,0.15) (-0.1,0.1) (-0.9,0.75) (-0.8,0.62) (-0.7,0.5) (-0.6,0.42) (-0.5,0.32) (-0.4,0.25) (-0.3,0.15)
(0.02,0.01) (0.05,0.03) (0.08,0.05) (0.11,0.08) (0.14,0.11) (0.17,0.14) (0.20,0.17) (0.23,0.20) (0.26,0.24) (0.29,0.27) (0.32,0.31) (0.35,0.34) (0.38,0.38) (0.41,0.42) (0.44,0.45) (0.47,0.49) (0.50,0.53) (0.53,0.57) (0.56,0.61) (0.59,0.65) (0.62,0.69) (0.65,0.73) (0.68,0.77) (0.71,0.81) (0.74,0.86) (0.77,0.90) (0.80,0.95) (0.83,0.99) (0.86,1.04) (0.89,1.09) (0.92,1.14) (0.95,1.20) (0.35,0.45) (0.45,0.58) (0.55,0.70) (0.60,0.80) (0.65,0.85) (0.70,0.95) (0.75,0.70) (0.80,1.05) (0.85,0.85) (0.90,0.95) (0.50,0.40) (0.40,0.30) (0.30,0.35)
(0.1,0.12) (0.2,0.25) (0.3,0.38) (0.4,0.5) (0.5,0.65) (0.6,0.75) (0.7,0.88) (0.8,1.0) (0.9,1.15) (0.95,1.05) (0.85,1.12) (0.75,1.0) (0.65,0.9) (0.55,0.78) (0.45,0.6) (0.35,0.5) (0.25,0.3) (0.15,0.18) (0.6,0.6) (0.7,0.72) (0.8,0.82) (0.9,0.9)};
\addplot[pts=pred] coordinates {(-1.46,9.65) (-1.16,5.63) (-1.75,4.85) (-4.11,4.06) (-1.53,3.82) (-1.24,3.91) (-1.43,3.35) (-1.99,3.06) (-1.29,2.82) (-1.09,2.46) (-2.89,2.17) (-2.48,2.00) (-2.47,1.87) (-2.02,1.95) (-1.73,1.71) (-1.34,1.77) (-1.81,1.55) (-1.55,1.41) (-1.14,1.49) (-1.04,1.46) (-1.26,1.92) (-1.10,2.28) (-1.65,1.45) (-1.20,1.60)
(1.70,9.67) (1.87,9.65) (1.57,8.69) (2.11,8.41) (2.21,7.83) (3.54,7.79) (4.77,7.79) (4.95,8.05) (2.68,7.17) (1.62,6.53) (1.72,5.65) (1.82,5.65) (3.88,5.19) (4.18,5.03) (1.34,4.96) (2.34,4.15) (1.50,3.80) (1.97,3.92) (2.26,3.78) (2.39,3.66) (2.61,3.55) (2.98,3.93) (1.80,3.33) (1.50,3.46) (2.28,3.10) (1.62,3.01) (1.18,2.96) (3.94,3.01) (4.10,3.14) (4.20,3.30) (4.42,3.50) (4.52,3.51) (2.70,2.81) (2.98,2.69) (1.38,2.66) (1.58,2.66) (1.82,2.79) (2.49,2.58) (2.43,2.52) (2.49,2.40) (3.25,2.37) (3.12,2.25) (3.00,2.20) (2.86,2.13) (2.70,2.07) (2.68,2.30) (1.21,2.30) (1.34,2.20) (1.53,2.13) (1.72,2.20) (1.87,2.22) (1.28,2.04) (1.53,1.99) (1.72,2.04) (2.21,1.95) (2.46,1.87) (2.16,1.81) (1.97,1.81) (1.82,1.68) (2.02,1.63) (2.26,1.72) (1.31,1.77) (1.53,1.61) (1.23,1.57) (1.40,1.52) (1.62,1.46) (1.87,1.55) (2.11,1.63) (1.08,1.57) (1.13,1.40) (1.33,1.35) (1.72,1.41) (2.55,1.98) (2.60,2.02) (2.35,1.78) (2.05,1.70) (1.95,1.50)};
\addplot[pts=pgreen] coordinates {(-0.84,4.07) (-0.87,3.30) (-0.84,1.60) (-0.89,1.51) (-0.65,1.39) (-0.79,1.64) (0.98,4.02) (1.01,3.88) (0.90,2.96) (0.68,2.02) (0.81,1.82) (0.91,1.82) (0.76,1.59) (0.73,1.50)};
\addplot[pts=pblue] coordinates {(-1.48,1.26) (-1.33,1.19) (-1.19,1.13) (-1.29,1.06) (-1.14,0.95) (-1.04,0.86) (-1.38,1.26) (-1.06,1.10) (-1.22,1.20) (-1.10,1.00) (-1.42,1.18) (1.03,1.23) (1.18,1.19) (1.33,1.23) (1.43,1.26) (1.11,1.05) (1.25,1.11) (1.05,0.86) (1.13,0.95) (1.53,1.29) (1.20,1.25) (1.30,1.17) (1.08,1.15) (1.38,1.21)};
\addplot[dia=pred] coordinates {(-2.55,9.97) (-1.66,7.17) (-1.78,2.94) (1.44,9.20) (1.05,4.33) (0.98,3.53)};
\addplot[tru=pred] coordinates {(-2.17,10) (-1.85,10) (-1.73,10) (-1.60,10) (1.82,10) (2.03,10) (2.26,10) (2.44,10) (2.67,10) (3.15,10) (4.08,10) (4.40,10)};
\addplot[trr=pred] coordinates {(4.95,9.65) (4.95,6.42) (4.95,6.28) (4.95,6.17) (4.95,5.22) (4.95,5.14) (4.95,4.94) (4.95,4.57)};
\addplot[dia=pgreen] coordinates {(-0.74,2.13) (-0.94,1.82)};
\addplot[dia=black] coordinates {(-0.55,0.43) (-0.17,0.06) (-0.10,0.05) (-0.13,0.03)};
\node[font=\sym\fs{17}] at (axis cs:-4.91,9.2) {\scalebox{0.85}[1.3]{▼}};
\node[font=\fs{25}] at (axis cs:-3.85,9.2) {63};
\node[font=\sym\fs{17}] at (axis cs:2.67,9.2) {\scalebox{0.85}[1.3]{▲}};
\node[font=\fs{25}] at (axis cs:3.99,9.2) {161};
\lb{pred}{d1}{-4.76,10.05}{Ntm}{pred}{-2.55,9.97}
\lb{pred}{d2}{-4.34,8.06}{R2-595}{pred}{-1.85,10}
\lb{pred}{d3}{-2.13,8.06}{Plekha5}{pred}{-1.73,10}
\lb{pred}{d4}{-4.41,7.16}{Cnksr3}{pred}{-1.66,7.17}
\lb{pred}{d5}{-3.76,5.78}{R1-17}{pred}{-1.78,2.94}
\lb{lgreen}{d6}{-4.19,3.39}{R1-8590}{lgreen}{-0.74,2.13}
\lb{lgreen}{d7}{-4.29,2.46}{Cdr1 as}{lgreen}{-0.94,1.82}
\lb{pred}{d8}{3.54,8.27}{Zfp521}{pred}{1.44,9.20}
\lb{pred}{d9}{2.80,5.03}{Chd7}{pred}{1.05,4.33}
\lb{pred}{d10}{4.40,4.12}{Rbfox1}{pred}{0.98,3.53}
\lb{lgrey}{d11}{-3.11,0.84}{R1-16}{black}{-0.55,0.43}
\lb{lgrey}{d12}{2.98,0.84}{R1-8596}{black}{-0.10,0.05}
\lb{lgrey}{d13}{-2.22,0.0}{R1-18}{black}{-0.17,0.06}
\lb{lgrey}{d14}{2.05,0.0}{Dym}{black}{-0.13,0.03}
\end{axis}

% =========== Scatter bottom ===========
\begin{axis}[base, at={(482pt,-414pt)}, anchor=north west, width=300pt, height=298pt,
  xmode=log, ymode=log, xmin=0.67, xmax=6200, ymin=0.64, ymax=11800,
  xtick={1,10,100,1000}, xticklabels={1,10,100,1000},
  ytick={1,10,100,1000,10000}, yticklabels={1,10,100,1000,10000},
  minor xtick={3.162,31.62,316.2,3162}, minor ytick={3.162,31.62,316.2,3162}]
\addplot[black, line width=0.7pt, dash pattern=on 3pt off 2pt] coordinates {(0.67,0.67) (6200,6200)};
\addplot[pts=pgrey] coordinates {(1,8.5) (1,9.2) (1,220)
(6.5,1) (8.6,1) (9,1) (11,1) (12.5,1) (15,1) (17,1) (19,1) (23,1) (26,1) (28,1) (30,1) (36,1) (40,1) (50,1) (52,1) (62,1) (210,1)
(1.4,9.5) (1.6,10) (1.8,8.5) (2,10) (2.1,9) (2.3,7.5) (2.4,11) (2.6,8.2) (2.7,6.5) (2.8,10.5) (3,7.5) (3,5.8) (3.2,9.5) (3.3,12) (3.4,5) (3.5,7) (3.6,4.2) (3.8,8.5) (3.9,6) (4,10.5) (4,3.6) (4.2,5) (4.3,7.5) (4.4,3) (4.5,13) (4.6,5.8) (4.7,4.2) (4.8,9) (4.9,2.6) (5,6.5) (5.1,3.4) (5.2,11) (5.3,4.8) (5.4,2.2) (5.5,7.8) (5.6,15) (5.7,3.8) (5.8,1.9) (5.9,5.5) (6,9.5) (6,2.9) (6.2,1.6) (6.3,4.3) (6.4,7) (6.5,12) (6.6,2.3) (6.7,5.2) (6.8,1.4) (7,3.4) (7,8.5) (7.2,6) (7.3,1.8) (7.4,2.7) (7.5,4.4) (7.7,10.5) (7.8,1.5) (8,3) (8,6.8) (8.2,2.1) (8.3,14) (8.5,4.8) (8.6,1.3) (8.8,2.5) (9,8) (9,3.6) (9.2,1.7) (9.5,5.5) (9.7,11) (10,2.2) (10,4) (10.3,18) (10.5,6.5) (11,3) (11,9) (11.5,1.6) (12,5) (12,13) (12.5,2.4) (13,7.5) (13,22) (13.5,3.5) (14,10.5) (14.5,2) (15,16) (15,5.5) (16,28) (16,8) (17,3) (17,35) (18,12) (19,20) (19,4.5) (20,40) (21,15) (22,25) (23,30) (24,48) (25,9) (26,20) (27,35) (28,55) (30,42) (30,14) (32,28) (33,60) (35,48) (37,20) (38,70) (40,32) (42,55) (44,80) (46,40) (48,65) (50,22) (52,90) (55,50) (58,75) (60,35) (62,100) (65,60) (68,85) (70,45) (72,120) (75,70) (80,100) (85,55) (88,140) (90,80) (95,110) (100,65) (105,160) (110,90) (118,130) (125,110) (130,180) (140,100) (150,150) (160,200) (170,120) (180,210) (200,310) (220,180) (240,300) (260,320) (280,230) (300,320) (320,200) (550,600) (700,120) (2400,1050) (230,95) (180,70) (40,12) (55,25) (75,30) (90,25)
(2.3,7.2) (2.5,10) (2.4,12.6) (2.9,5.4) (3.1,7.6) (2.9,10.8) (3.0,14.4) (3.6,3.8) (3.9,5) (3.7,6.5) (3.8,8.8) (3.6,11.7) (3.9,16) (4.6,2.7) (5.1,3.6) (4.7,4.7) (5,6.1) (4.7,7.9) (5,10.4) (4.8,13.5) (5,18) (5.6,2.0) (6.1,2.8) (5.7,3.8) (6,5) (5.7,6.6) (5.9,8.6) (5.8,11.2) (6,15.3) (5.7,19.8) (6.5,1.45) (6.9,2.2) (6.6,3) (6.9,4) (6.5,5.4) (6.9,7) (6.7,9.2) (6.8,12.2) (6.6,16.2) (6.9,21.6) (7.8,1.2) (8.5,1.7) (7.9,2.5) (8.4,3.4) (8,4.6) (8.3,6) (8,7.8) (8.3,10.4) (7.9,13.5) (8.4,18) (8.1,24) (9.2,1.3) (9.9,2) (9.4,2.9) (9.8,3.9) (9.5,5.1) (9.7,6.8) (9.4,8.8) (9.8,11.7) (9.5,15.3) (9.7,20.7) (9.4,27) (10.9,1.6) (11.6,2.4) (11,3.4) (11.4,4.6) (11.1,6.1) (11.4,8.1) (11,10.6) (11.6,14) (11.1,18) (11.3,24) (11,31.5) (13.2,2.1) (14,3.1) (13.3,4.3) (13.8,5.8) (13.4,7.7) (13.9,10.1) (13.2,13) (13.8,17.1) (13.4,22.5) (13.6,29.7) (15.8,2.7) (16.7,4) (16.1,5.6) (16.5,7.6) (16,9.9) (16.6,13) (16.2,17.1) (16.5,22.5) (16,29.7) (16.7,37.8) (19.3,3.6) (20.4,5.2) (19.6,7.4) (20.1,9.9) (19.4,13) (20.2,17.1) (19.7,22.5) (20,28.8) (19.5,37.8) (23.7,5) (24.8,7.2) (24,9.9) (24.5,13.5) (23.8,18) (24.6,23.4) (24.1,30.6) (24.4,40.5) (29.2,6.8) (30.3,9.9) (29.5,13.5) (30,18) (29.3,24.3) (30.1,32.4) (29.6,43.2) (35,9) (37,12.6) (35.8,17.1) (36.9,23.4) (35.4,31.5) (37.2,42.3) (36.1,55.8) (43,12.6) (45,17.1) (43.5,23.4) (44.6,31.5) (43.1,42.3) (44.9,55.8) (44,72)};
\addplot[pts=pred] coordinates {(1,10.5) (1,9.8) (1.38,10.4) (1.51,13.9) (1.62,21.8) (2.64,17.8) (3.14,19.0) (4.8,21.2) (6.4,31.2) (7.0,27.7) (10.4,28.2) (12.6,45) (13.9,43) (16.6,48.6) (18.4,46.8) (13.9,38) (25.7,57) (24.4,63) (31.7,69.7) (40,98) (61.6,296) (66.7,208) (73,208) (66,147) (92,325) (102,322) (66,23.2) (78,18.8) (86,19.2) (118,37.7) (147,38.2) (171,32) (111,32) (95,25.2) (110,21) (114,19.2) (105,11.6) (92,13.7) (78,10.1) (58.8,10.6) (58.8,8.4) (55.5,11.7) (49,15.2) (45.5,17.8) (49,19.4) (42,12.6) (40,11.4) (34.5,15.2) (31.3,11.4) (29.5,9.9) (31.3,8.4) (36.9,8.3) (42,9.4) (40,6.1) (35,5.5) (31.7,6.8) (27.8,7.8) (26.4,5.5) (24.4,6.0) (22.7,6.5) (20.3,6.5) (25,4.5) (29.9,4.8) (30.1,3.8) (36.9,3.35) (52.7,3.7) (25.4,2.9) (21.6,2.95) (18.3,3.7) (17.0,2.56) (14.5,2.56) (12.8,2.47) (17.1,2.27) (15.3,1.9) (14,1.9) (22.7,1.76) (25.4,1.65) (31.7,1.8) (35,1.65) (13.0,1.5) (10.1,1.32)
(6.3,1) (7,1) (7.7,1) (8.5,1) (9.3,1) (10,1) (11,1) (12,1) (13,1) (14,1) (16,1) (18,1) (20,1) (21,1) (22,1) (24,1) (31,1) (33,1)};
\addplot[pts=pgreen] coordinates {(147,268) (292,515) (248,123) (158,91.5) (58.6,97) (117,67) (139,68) (121,57) (79.5,43) (56.5,32) (66,34.6) (21.6,44.3) (33.8,62) (21,45)};
\addplot[pts=pblue] coordinates {(24,154) (22.2,58.6) (5.6,41.5) (10.9,34.1) (16.9,37.4) (6.4,20.4) (6.8,21.8) (3.7,17.4) (4.0,15.5) (3.9,17.6) (2.64,12.8) (2.8,13.7) (3.0,12.6) (2.17,11.6) (1.89,11.6) (1.6,11.2) (1.4,9.0) (1,11.9) (41,12.4) (44.5,8.4) (21.9,8.3) (21.1,6.5) (34.5,5.5) (16.6,4.9) (13.9,4.4) (13.9,3.55) (17.2,3.4) (8.15,2.07) (9.05,2.07) (8.6,1.82) (8.8,1.65) (10.4,1.76) (7.95,1.45) (8.45,1.32)};
\addplot[dia=pred] coordinates {(244,890) (40,240) (58.5,213) (365,166) (277,134) (231,81) (23.2,79) (7.4,26.8)};
\addplot[dia=pgreen] coordinates {(3780,7750) (203,345)};
\addplot[dia=black] coordinates {(129,136) (37,42.5) (28.3,33) (15.6,26)};
\lb{pred}{e1}{132,6950}{Plekha5}{pred}{244,890}
\lb{lgreen}{e2}{1145,6950}{Cdr1 as}{lgreen}{3780,7750}
\lb{lgreen}{e3}{28.6,2935}{R1-8590}{lgreen}{203,345}
\lb{pred}{e4}{6.14,1228}{R2-595}{pred}{58.5,213}
\lb{pred}{e5}{4.45,514}{Ntm}{pred}{40,240}
\lb{pred}{e6}{5.82,219}{Cnksr3}{pred}{23.2,79}
\lb{pred}{e7}{2330,417}{Chd7}{pred}{365,166}
\lb{pred}{e8}{1960,175}{Rbfox1}{pred}{277,134}
\lb{lgrey}{e9}{2360,74.8}{Dym}{black}{129,136}
\lb{pred}{e10}{1960,31.6}{Zfp521}{pred}{231,81}
\lb{lgrey}{e11}{1614,13.4}{R1-8596}{black}{37,42.5}
\lb{lgrey}{e12}{2065,5.75}{R1-18}{black}{28.3,33}
\lb{lgrey}{e13}{1.64,93}{R1-16}{black}{15.6,26}
\lb{pred}{e14}{1.64,38.9}{R1-17}{pred}{7.4,26.8}
\end{axis}

% =========== B bottom ===========
\begin{axis}[base, at={(899pt,-412pt)}, anchor=north west, width=312pt, height=297pt,
  xmin=-3.3, xmax=3.3, ymin=-3.3, ymax=3.3,
  xtick={-3,-2,-1,0,1,2,3}, ytick={-3,-2,-1,0,1,2,3},
  minor xtick={-2.5,-1.5,-0.5,0.5,1.5,2.5}, minor ytick={-2.5,-1.5,-0.5,0.5,1.5,2.5}]
\addplot[gray, line width=0.6pt, dash pattern=on 3pt off 2pt] coordinates {(-3.3,-3.3) (3.3,3.3)};
\addplot[gray, line width=0.6pt, dash pattern=on 3pt off 2pt] coordinates {(-3.3,3.3) (3.3,-3.3)};
\addplot[zgrey, line width=1.1pt] coordinates {(-3.3,0) (3.3,0)};
\addplot[zgrey, line width=1.1pt] coordinates {(0,-3.3) (0,3.3)};
\addplot[pts=pgrey] coordinates {(-2.2,-0.65) (-1.9,-0.55) (-1.72,-0.38) (-1.55,0.85) (-1.5,-0.1) (-1.45,-0.7) (-1.4,0.05) (-1.35,-0.3) (-1.3,0.3) (-1.28,-0.6) (-1.22,0.1) (-1.2,-0.25) (-1.15,0.5) (-1.12,-0.85) (-1.1,-0.05) (-1.05,0.25) (-1.02,-0.45) (-1.0,0.65) (-0.98,0.0) (-0.95,-0.2) (-0.92,0.4) (-0.9,-0.7) (-0.88,0.15) (-0.85,-0.35) (-0.83,0.8) (-0.8,0.05) (-0.78,-0.55) (-0.76,0.3) (-0.74,-0.1) (-0.72,0.55) (-0.7,-0.9) (-0.68,0.18) (-0.66,-0.3) (-0.64,0.7) (-0.62,-0.02) (-0.6,-0.65) (-0.58,0.4) (-0.56,-0.15) (-0.54,0.9) (-0.52,0.1) (-0.5,-0.45) (-0.48,0.25) (-0.46,-0.8) (-0.44,0.6) (-0.42,0.0) (-0.4,-0.25) (-0.38,0.45) (-0.36,-0.6) (-0.34,0.15) (-0.32,0.8) (-0.3,-0.1) (-0.28,-0.4) (-0.26,0.3) (-0.24,-0.75) (-0.22,0.05) (-0.2,0.6) (-0.18,-0.2) (-0.16,0.95) (-0.14,-0.5) (-0.12,0.2) (-0.1,-0.05) (-0.08,0.4) (-0.06,-0.3) (-0.04,0.7) (-0.02,-0.85) (0.0,0.1) (0.02,-0.15) (0.04,0.5) (0.06,-0.45) (0.08,0.25) (0.1,0.85) (0.12,-0.05) (0.14,-0.65) (0.16,0.35) (0.18,0.0) (0.2,0.65) (0.22,-0.3) (0.24,0.15) (0.26,-0.55) (0.28,0.45) (0.3,-0.1) (0.33,0.8) (0.36,0.2) (0.39,-0.35) (0.42,0.5) (0.45,-0.05) (0.48,0.3) (0.5,-0.6) (0.53,0.65) (0.56,0.1) (0.6,-0.25) (0.63,0.4) (0.66,-0.45) (0.7,0.2) (0.75,0.6) (0.8,-0.1) (0.87,0.5) (0.95,0.0) (1.0,0.95) (1.22,0.85) (1.22,0.67) (1.3,0.02) (1.35,-0.02) (0.55,0.95) (-0.9,0.95) (-1.6,-0.85) (0.4,-0.9) (-0.35,-0.95) (0.0,-0.95) (0.3,-0.8)
(-0.4,0.1) (-0.3,0.2) (-0.2,-0.1) (-0.1,0.15) (-0.25,0.0) (-0.15,0.3) (-0.35,-0.2) (-0.05,-0.15) (0.05,0.25) (-0.45,-0.1) (-0.55,0.3) (-0.2,0.4) (0.1,-0.3) (-0.3,-0.5) (-0.6,0.05) (0.15,0.1) (-0.1,0.5) (-0.65,-0.4) (-0.2,-0.35) (0.0,0.3)
(-0.98,-0.17) (-1.02,0.11) (-0.88,-0.39) (-0.92,-0.06) (-0.87,0.22) (-0.78,-0.55) (-0.82,-0.28) (-0.77,0.0) (-0.81,0.28) (-0.79,0.5) (-0.68,-0.66) (-0.72,-0.44) (-0.69,-0.17) (-0.71,0.11) (-0.67,0.33) (-0.72,0.6) (-0.58,-0.77) (-0.62,-0.55) (-0.59,-0.33) (-0.61,-0.11) (-0.57,0.13) (-0.63,0.35) (-0.6,0.55) (-0.56,0.77) (-0.48,-0.82) (-0.52,-0.6) (-0.5,-0.38) (-0.47,-0.17) (-0.53,0.06) (-0.49,0.28) (-0.51,0.46) (-0.48,0.68) (-0.38,-0.75) (-0.42,-0.55) (-0.39,-0.31) (-0.43,-0.09) (-0.4,0.17) (-0.37,0.36) (-0.41,0.57) (-0.39,0.82) (-0.28,-0.88) (-0.32,-0.66) (-0.3,-0.44) (-0.27,-0.2) (-0.33,0.02) (-0.29,0.22) (-0.31,0.44) (-0.28,0.64) (-0.32,0.86) (-0.18,-0.79) (-0.22,-0.57) (-0.2,-0.35) (-0.17,-0.13) (-0.23,0.09) (-0.19,0.31) (-0.21,0.53) (-0.18,0.73) (-0.08,-0.9) (-0.12,-0.68) (-0.1,-0.46) (-0.07,-0.24) (-0.13,-0.02) (-0.09,0.2) (-0.11,0.42) (-0.08,0.62) (-0.12,0.84) (0.02,-0.77) (-0.02,-0.55) (0.0,-0.33) (0.03,-0.11) (-0.03,0.11) (0.01,0.33) (-0.01,0.55) (0.02,0.77) (0.12,-0.66) (0.08,-0.44) (0.1,-0.22) (0.13,0.0) (0.07,0.22) (0.11,0.44) (0.09,0.66) (0.12,0.88) (0.22,-0.6) (0.18,-0.38) (0.2,-0.17) (0.23,0.06) (0.17,0.28) (0.21,0.5) (0.19,0.72) (0.32,-0.5) (0.28,-0.28) (0.3,-0.06) (0.33,0.17) (0.27,0.39) (0.31,0.6) (0.42,-0.39) (0.38,-0.17) (0.4,0.06) (0.43,0.28) (0.37,0.5) (0.52,-0.28) (0.48,-0.06) (0.5,0.17) (0.53,0.39) (0.62,-0.11) (0.58,0.11) (0.6,0.33) (0.72,0.0) (0.68,0.22)};
\addplot[pts=pred] coordinates {(-1.57,2.66) (-1.26,2.20) (-1.48,1.85) (-1.88,1.51) (-1.26,1.36) (-1.26,1.25) (1.94,2.23) (0.98,1.21) (1.39,1.22) (0.64,2.79) (0.58,2.39) (0.60,2.06) (0.60,1.71) (0.59,1.41) (0.36,1.93)
(-0.52,2.92) (-0.44,2.74) (-0.35,2.68) (-0.27,2.80) (-0.21,2.62) (-0.58,2.62) (-0.03,2.69) (0.05,2.69) (-0.47,2.43) (-0.28,2.38) (-0.16,2.48) (0.03,2.47) (0.11,2.48) (0.19,2.40) (0.17,2.29) (-0.10,2.26) (-0.16,2.25) (-0.78,2.31) (-0.69,2.20) (-0.49,2.14) (-0.32,2.13) (-0.18,1.98) (-0.42,2.02) (-0.84,1.90) (-0.76,1.88) (-0.58,1.84) (-0.53,1.81) (-0.41,1.76) (-0.35,1.72) (-0.26,1.68) (0.06,1.92) (0.05,1.84) (0.18,1.86) (-0.08,1.80) (-0.19,1.63) (0.07,1.66) (0.15,1.65) (-0.30,1.59) (-0.12,1.60) (-0.08,1.54) (0.12,1.51) (0.22,1.47) (-0.47,1.58) (-0.67,1.47) (-0.33,1.39) (-0.16,1.36) (0.03,1.28) (0.15,1.23) (0.25,1.12) (-0.52,1.34) (-0.19,1.25) (-0.08,1.16) (0.32,1.06) (0.60,1.41) (0.50,1.17)
(-1.54,-1.48) (-1.40,-1.53) (-1.88,-2.16) (-0.94,-2.88) (-0.14,-2.47) (-0.26,-2.01) (-0.12,-1.98) (-0.30,-1.73) (-0.14,-1.70) (-0.14,-1.78) (-0.49,-1.80) (-0.67,-1.51) (-0.56,-1.49) (-0.76,-1.27) (-0.67,-1.21) (-0.64,-1.26) (-0.71,-1.20) (-0.54,-1.16) (-0.34,-1.02) (-0.19,-1.43) (0.12,-1.09) (0.22,-1.00) (0.24,-1.46) (-1.08,-1.29) (-0.60,-1.30) (-0.45,-1.10)};
\addplot[pts=pblue] coordinates {(-1.35,1.32) (-0.88,1.21) (-0.69,1.05) (-0.31,1.36) (-0.21,1.32) (-0.10,1.21) (-0.05,1.52) (0.08,1.39) (0.14,1.53) (0.21,1.33) (0.27,1.21) (0.30,1.49) (0.34,1.02) (-0.31,1.00) (-0.23,1.10) (0.89,1.39) (0.56,1.36) (-0.40,1.30) (0.10,1.15) (0.33,1.05)
(-1.64,-1.01) (-1.54,-1.13) (-1.04,-1.02) (-0.86,-1.04) (-0.98,-1.09) (-0.84,-1.21) (-0.84,-1.31) (-0.78,-1.48) (-0.56,-0.99) (-0.52,-1.04) (-0.31,-1.13) (-0.14,-1.15) (-0.16,-1.32) (-0.34,-1.46) (-0.05,-1.42)};
\addplot[pts=pgreen] coordinates {(-1.15,-0.83) (-0.69,0.67) (-0.19,0.75) (-0.03,0.72) (0.17,0.93) (0.21,0.80) (0.04,1.03) (-0.54,-0.94) (-0.36,-0.89) (-0.23,-0.85)};
\addplot[dia=pred] coordinates {(-0.38,1.51) (-0.14,1.13) (-1.11,1.04) (-1.31,-1.77) (-1.92,-1.75) (-0.98,-1.59) (-1.15,-1.71) (-0.10,-2.47)};
\addplot[tru=pred] coordinates {(-0.98,2.96) (-0.67,2.96) (-0.47,2.96) (-0.42,2.96) (-0.36,2.96) (-0.31,2.96) (-0.25,2.96) (-0.19,2.96) (-0.14,2.96) (-0.09,2.96) (-0.03,2.96) (0.06,2.96) (0.19,2.96) (0.22,2.96) (0.36,2.96) (0.54,2.96) (0.69,2.96)};
\addplot[trr=pred] coordinates {(2.95,2.96)};
\addplot[trd=pred] coordinates {(-1.07,-2.93)};
\addplot[dia=pgreen] coordinates {(-1.15,-0.67) (-1.37,-0.88)};
\addplot[dia=black] coordinates {(-1.15,-0.09) (-0.47,-0.05) (-1.15,-0.47)};
\lb{pred}{f1}{-1.96,2.98}{Zfp521}{pred}{-0.38,1.51}
\lb{pred}{f2}{-2.82,1.77}{Chd7}{pred}{-0.14,1.13}
\lb{pred}{f3}{-2.71,1.12}{Rbfox1}{pred}{-1.11,1.04}
\lb{lgreen}{f4}{-2.56,-0.27}{R1-8590}{lgreen}{-1.15,-0.67}
\lb{lgreen}{f5}{-2.62,-1.0}{Cdr1 as}{lgreen}{-1.37,-0.88}
\lb{pred}{f6}{-2.65,-1.53}{R2-595}{pred}{-1.31,-1.77}
\lb{pred}{f7}{-2.62,-2.41}{Plekha5}{pred}{-1.92,-1.75}
\lb{pred}{f8}{-0.84,-2.30}{Cnksr3}{pred}{-0.98,-1.59}
\lb{pred}{f9}{-1.99,-2.97}{R1-17}{pred}{-1.15,-1.71}
\lb{pred}{f10}{-0.43,-2.97}{Ntm}{pred}{-0.10,-2.47}
\end{axis}

% DE status legend
\begin{axis}[hide axis, scale only axis, at={(1231pt,-570pt)}, anchor=north west, width=100pt, height=148pt,
  xmin=0, xmax=1, ymin=0, ymax=1,
  legend style={at={(0,1)}, anchor=north west, draw=cgrey, line width=1.3pt, fill=white, font=\fs{15}, row sep=12pt, inner xsep=2pt, inner ysep=5pt, cells={anchor=west}}]
\addlegendimage{empty legend}\addlegendentry{\hspace*{-17pt}\fs{18.5}DE status}
\addlegendimage{legend image code/.code={\path (0cm,0cm) (0.6cm,0cm); \fill[legred] (0.38cm,0cm) circle (6pt);}}\addlegendentry{FC and FDR}
\addlegendimage{legend image code/.code={\path (0cm,0cm) (0.6cm,0cm); \fill[leggreen] (0.38cm,0cm) circle (6pt);}}\addlegendentry{FDR only}
\addlegendimage{legend image code/.code={\path (0cm,0cm) (0.6cm,0cm); \fill[legblue] (0.38cm,0cm) circle (6pt);}}\addlegendentry{FC only}
\addlegendimage{legend image code/.code={\path (0cm,0cm) (0.6cm,0cm); \fill[leggrey] (0.38cm,0cm) circle (6pt);}}\addlegendentry{Not changed}
\end{axis}

% =========== C top ===========
\begin{axis}[scale only axis, clip=false, at={(83pt,-839.5pt)}, anchor=north west, width=482pt, height=265.5pt,
  xmin=-0.62, xmax=12.64, ymode=log, ymin=0.0938, ymax=4.65,
  axis x line*=bottom, axis y line*=left, axis line style={line width=1.3pt, black, -},
  tick style={line width=1.1pt, black}, major tick length=5pt, minor tick length=0pt, tick align=outside,
  xtick={0,1,2,3,4,5,6,7,8,9,10,11,12}, xticklabels={},
  ytick={0.1,0.3,1,3}, yticklabels={0.1,0.3,1.0,3.0}, yticklabel style={font=\fs{15}, inner sep=1pt},
  unbounded coords=jump]
\addplot[corange, line width=1.4pt] coordinates {(-0.62,1) (12.64,1)};
\addplot[black, line width=0.8pt, dash pattern=on 3pt off 2.5pt] coordinates {(3.5,0.0938) (3.5,9.8)};
\addplot[cgreen, line width=1.4pt] coordinates {(-0.1,1.68) (-0.1,2.72) (-0.1,nan) (0.9,0.785) (0.9,1.30) (0.9,nan) (1.9,1.61) (1.9,2.65) (1.9,nan) (2.9,1.56) (2.9,2.62) (2.9,nan) (3.9,0.222) (3.9,0.411) (3.9,nan) (4.9,0.174) (4.9,0.321) (4.9,nan) (5.9,0.111) (5.9,0.186) (5.9,nan) (6.9,0.516) (6.9,0.857) (6.9,nan) (7.9,0.370) (7.9,0.628) (7.9,nan) (8.9,0.705) (8.9,1.185) (8.9,nan) (9.9,0.436) (9.9,0.712) (9.9,nan) (10.9,0.664) (10.9,1.114) (10.9,nan) (11.9,0.877) (11.9,1.447)};
\addplot[cgreen, line width=3.6pt] coordinates {(-0.1,1.90) (-0.1,2.42) (-0.1,nan) (0.9,0.90) (0.9,1.14) (0.9,nan) (1.9,1.84) (1.9,2.33) (1.9,nan) (2.9,1.80) (2.9,2.30) (2.9,nan) (3.9,0.260) (3.9,0.349) (3.9,nan) (4.9,0.203) (4.9,0.276) (4.9,nan) (5.9,0.1265) (5.9,0.162) (5.9,nan) (6.9,0.585) (6.9,0.752) (6.9,nan) (7.9,0.424) (7.9,0.546) (7.9,nan) (8.9,0.809) (8.9,1.033) (8.9,nan) (9.9,0.495) (9.9,0.628) (9.9,nan) (10.9,0.757) (10.9,0.968) (10.9,nan) (11.9,0.994) (11.9,1.278)};
\addplot[only marks, mark=*, mark size=3.6pt, color=cgreen] coordinates {(-0.1,2.14) (0.9,1.02) (1.9,2.07) (2.9,2.03) (3.9,0.30) (4.9,0.238) (5.9,0.143) (6.9,0.66) (7.9,0.48) (8.9,0.92) (9.9,0.56) (10.9,0.86) (11.9,1.13)};
\addplot[cgrey, line width=1.4pt] coordinates {(0.1,0.574) (0.1,1.02) (0.1,nan) (1.1,0.637) (1.1,1.147) (1.1,nan) (2.1,0.65) (2.1,1.17) (2.1,nan) (3.1,0.703) (3.1,1.249) (3.1,nan) (4.1,0.822) (4.1,1.596) (4.1,nan) (5.1,0.66) (5.1,1.334) (5.1,nan) (6.1,0.604) (6.1,1.096) (6.1,nan) (7.1,0.693) (7.1,1.209) (7.1,nan) (8.1,0.637) (8.1,1.14) (8.1,nan) (9.1,0.693) (9.1,1.225) (9.1,nan) (10.1,0.562) (10.1,0.987) (10.1,nan) (11.1,0.816) (11.1,1.447) (11.1,nan) (12.1,0.73) (12.1,1.316)};
\addplot[cgrey, line width=3.6pt] coordinates {(0.1,0.671) (0.1,0.877) (0.1,nan) (1.1,0.747) (1.1,0.994) (1.1,nan) (2.1,0.745) (2.1,0.994) (2.1,nan) (3.1,0.816) (3.1,1.068) (3.1,nan) (4.1,0.977) (4.1,1.369) (4.1,nan) (5.1,0.785) (5.1,1.096) (5.1,nan) (6.1,0.712) (6.1,0.949) (6.1,nan) (7.1,0.80) (7.1,1.054) (7.1,nan) (8.1,0.74) (8.1,0.974) (8.1,nan) (9.1,0.806) (9.1,1.054) (9.1,nan) (10.1,0.654) (10.1,0.857) (10.1,nan) (11.1,0.946) (11.1,1.237) (11.1,nan) (12.1,0.857) (12.1,1.14)};
\addplot[only marks, mark=-, mark size=6.5pt, color=cgrey, mark options={line width=1.6pt}] coordinates {(0.1,0.77) (1.1,0.863) (2.1,0.863) (3.1,0.937) (4.1,1.16) (5.1,0.935) (6.1,0.82) (7.1,0.92) (8.1,0.85) (9.1,0.923) (10.1,0.75) (11.1,1.08) (12.1,0.995)};
\addplot[star] coordinates {(-0.1,3.25) (1.9,3.25) (2.9,3.25) (3.9,0.18) (4.9,0.142) (5.9,0.099) (6.9,0.42) (7.9,0.33) (9.9,0.358)};
\end{axis}
\begin{axis}[hide axis, scale only axis, at={(346pt,-1023.5pt)}, anchor=north west, width=218pt, height=78pt,
  xmin=0, xmax=1, ymin=0, ymax=1,
  legend style={at={(0,1)}, anchor=north west, draw=cgrey, line width=1.3pt, fill=white, font=\fs{14}, row sep=1pt, inner xsep=3pt, inner ysep=6pt, cells={anchor=west}}]
\addlegendimage{empty legend}\addlegendentry{\hspace*{-23pt}\fs{16.5}Genotypes\rule[-12pt]{0pt}{24pt}}
\addlegendimage{legend image code/.code={\path (0cm,0cm) (0.7cm,0cm); \draw[cgreen,line width=1.2pt] (0.4cm,-0.25cm)--(0.4cm,0.25cm); \fill[cgreen] (0.4cm,0cm) circle (2pt);}}
\addlegendentry{\Prpf{N/N} (n=12) vs. \Prpf{wt/wt}(6)\hspace{4pt}}
\addlegendimage{legend image code/.code={\path (0cm,0cm) (0.7cm,0cm); \draw[cgrey,line width=1.2pt] (0.4cm,-0.25cm)--(0.4cm,0.25cm); \draw[cgrey,line width=1.2pt] (0.25cm,0cm)--(0.55cm,0cm);}}
\addlegendentry{\Prpf{N/wt} (n=6) vs. \Prpf{wt/wt}(6)}
\end{axis}

% =========== C bottom ===========
\begin{axis}[scale only axis, clip=false, at={(86pt,-1134pt)}, anchor=north west, width=481pt, height=266pt,
  xmin=-0.6, xmax=12.63, ymode=log, ymin=0.1345, ymax=5.27,
  axis x line*=bottom, axis y line*=left, axis line style={line width=1.3pt, black, -},
  tick style={line width=1.1pt, black}, major tick length=5pt, minor tick length=0pt, tick align=outside,
  xtick={0,1,2,3,4,5,6,7,8,9,10,11,12},
  xticklabels={Chd7 circ\_0011821, Chd7 circ\_0011822, Rbfox1 circ\_0006379, Zfp521 circ\_0007146, Ntm alt. exon A, Ntm alt. exon B, Ntm circ\_0015493, Rims1 circ\_0000016, Rims1 circ\_0000017, Rims1 circ\_0000018, Rims2 circ\_0000595, Rims2 circ\_0595 alt. exon A *, Gapdh/Ubb},
  xticklabel style={rotate=60, anchor=east, font=\itshape\fs{14.5}, inner sep=2pt},
  ytick={0.3,1,3}, yticklabels={0.3,1.0,3.0}, yticklabel style={font=\fs{15}, inner sep=1pt},
  unbounded coords=jump]
\addplot[corange, line width=1.4pt] coordinates {(-0.6,1) (12.63,1)};
\addplot[black, line width=0.8pt, dash pattern=on 3pt off 2.5pt] coordinates {(3.5,0.1345) (3.5,5.27)};
\addplot[cblue, line width=1.4pt] coordinates {(0,3.38) (0,4.33) (0,nan) (1,1.40) (1,1.82) (1,nan) (2,3.42) (2,4.40) (2,nan) (3,3.12) (3,3.95) (3,nan) (4,0.189) (4,0.257) (4,nan) (5,0.217) (5,0.295) (5,nan) (6,0.160) (6,0.211) (6,nan) (7,0.837) (7,1.061) (7,nan) (8,0.531) (8,0.676) (8,nan) (9,1.32) (9,1.67) (9,nan) (10,0.676) (10,0.857) (10,nan) (11,0.613) (11,0.783) (11,nan) (12,0.924) (12,1.218)};
\addplot[cblue, line width=3.4pt] coordinates {(0,3.58) (0,4.03) (0,nan) (1,1.50) (1,1.69) (1,nan) (2,3.66) (2,4.11) (2,nan) (3,3.31) (3,3.70) (3,nan) (4,0.206) (4,0.237) (4,nan) (5,0.2346) (5,0.2725) (5,nan) (6,0.171) (6,0.196) (6,nan) (7,0.892) (7,0.992) (7,nan) (8,0.566) (8,0.631) (8,nan) (9,1.40) (9,1.56) (9,nan) (10,0.718) (10,0.805) (10,nan) (11,0.655) (11,0.734) (11,nan) (12,1.012) (12,1.139)};
\addplot[only marks, mark=*, mark size=3.7pt, color=cblue] coordinates {(0,3.80) (1,1.59) (2,3.88) (3,3.51) (4,0.221) (5,0.253) (6,0.1835) (7,0.943) (8,0.598) (9,1.48) (10,0.761) (11,0.695) (12,1.074)};
\addplot[star] coordinates {(0,2.83) (1,1.16) (2,2.83) (3,2.61) (4,0.158) (5,0.1815) (6,0.2508) (8,0.447) (9,2.02) (10,0.566) (11,0.513)};
\end{axis}
\begin{axis}[hide axis, scale only axis, at={(344pt,-1334.5pt)}, anchor=north west, width=223pt, height=61pt,
  xmin=0, xmax=1, ymin=0, ymax=1,
  legend style={at={(0,1)}, anchor=north west, draw=cgrey, line width=1.3pt, fill=white, font=\fs{14}, row sep=1pt, inner xsep=3pt, inner ysep=6pt, cells={anchor=west}}]
\addlegendimage{empty legend}\addlegendentry{\hspace*{-19pt}\fs{16.5}Genotypes\rule[-11pt]{0pt}{24pt}}
\addlegendimage{legend image code/.code={\path (0cm,0cm) (0.45cm,0cm); \draw[cblue,line width=1.2pt] (0.3cm,-0.25cm)--(0.3cm,0.25cm); \fill[cblue] (0.3cm,0cm) circle (2pt);}}
\addlegendentry{\Prpf{\Dl17/\Dl17} (n=6) vs. \Prpf{wt/wt}(10)}
\end{axis}
\end{tikzpicture}
\end{document}
